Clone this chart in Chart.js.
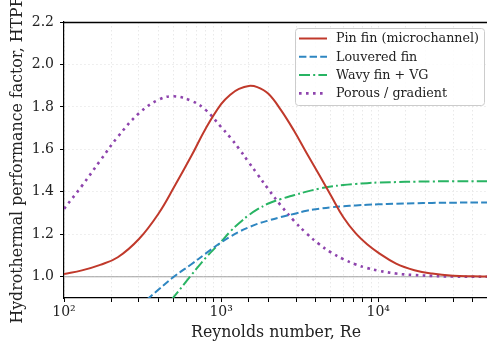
<!DOCTYPE html>
<html>
<head>
<meta charset="utf-8">
<script src="https://cdn.jsdelivr.net/npm/chart.js@4/dist/chart.umd.min.js"></script>
<style>
  html, body { margin: 0; padding: 0; background: #fff; overflow: hidden; }
  #wrap { width: 490px; height: 344px; }
</style>
</head>
<body>
<div id="wrap"><canvas id="chartCanvas"></canvas></div>
<script>
// Reynolds number sample points (x)
const reynolds = [100, 130, 170, 220, 300, 400, 500, 650, 800, 1000, 1150, 1300, 1500, 1700, 2000,
    2400, 2900, 3500, 4200, 5000, 6000, 7200, 8500, 10000, 13000, 17000, 22000, 30000, 40000, 50000];

// HTPF values
const pinFin = [1.013, 1.030, 1.056, 1.092, 1.178, 1.298, 1.420, 1.572, 1.700, 1.813, 1.859, 1.885, 1.899, 1.893, 1.862,
    1.786, 1.690, 1.583, 1.482, 1.383, 1.280, 1.204, 1.153, 1.114, 1.062, 1.031, 1.015, 1.005, 1.002, 1.001];
const louvered = [null, null, null, null, 0.860, 0.940, 1.000, 1.060, 1.110, 1.162, 1.190, 1.212, 1.233, 1.249, 1.265,
    1.281, 1.296, 1.311, 1.320, 1.327, 1.332, 1.336, 1.339, 1.341, 1.344, 1.346, 1.348, 1.349, 1.350, 1.350];
const wavyVG = [null, null, null, null, null, 0.820, 0.905, 1.010, 1.090, 1.165, 1.215, 1.252, 1.290, 1.317, 1.345,
    1.366, 1.384, 1.401, 1.415, 1.425, 1.432, 1.437, 1.441, 1.444, 1.446, 1.448, 1.449, 1.450, 1.450, 1.450];
const porous = [1.320, 1.428, 1.547, 1.659, 1.770, 1.834, 1.850, 1.828, 1.785, 1.705, 1.654, 1.603, 1.539, 1.484, 1.412,
    1.336, 1.265, 1.204, 1.154, 1.115, 1.083, 1.058, 1.041, 1.029, 1.015, 1.008, 1.004, 1.001, 1.000, 1.000];
const baseline = [1.0, 1.0];
const baselineRe = [100, 50000];

const yTicks = [1.0, 1.2, 1.4, 1.6, 1.8, 2.0, 2.2];
const decadeLabels = { 100: "10²", 1000: "10³", 10000: "10⁴" };

const serif = "'DejaVu Serif', 'Liberation Serif', serif";

const pts = (xs, ys) => xs.map((x, i) => ({ x: x, y: ys[i] })).filter(p => p.y !== null);

// legend drawn inside the plot, top right
const innerLegend = {
    id: "innerLegend",
    afterDraw(chart) {
        const ctx = chart.ctx;
        const items = chart.data.datasets.filter(d => d.inLegend);
        const bx = 295.5, by = 28.5, bw = 189, bh = 77;
        ctx.save();
        ctx.beginPath();
        ctx.roundRect(bx, by, bw, bh, 3);
        ctx.fillStyle = "rgba(255,255,255,0.85)";
        ctx.fill();
        ctx.lineWidth = 1;
        ctx.strokeStyle = "#cccccc";
        ctx.stroke();
        items.forEach((d, i) => {
            const y = 38.5 + i * 18.3;
            ctx.beginPath();
            ctx.setLineDash(d.borderDash || []);
            ctx.lineWidth = d.borderWidth;
            ctx.strokeStyle = d.borderColor;
            ctx.moveTo(299, y);
            ctx.lineTo(327, y);
            ctx.stroke();
            ctx.setLineDash([]);
            ctx.fillStyle = "#222";
            ctx.font = "12.7px " + serif;
            ctx.textBaseline = "middle";
            ctx.textAlign = "left";
            ctx.fillText(d.label, 336, y + 0.5);
        });
        ctx.restore();
    }
};

// top and right spines
const frame = {
    id: "frame",
    afterDatasetsDraw(chart) {
        const a = chart.chartArea;
        const ctx = chart.ctx;
        const top = Math.round(a.top) + 0.5;
        ctx.save();
        ctx.strokeStyle = "#000";
        ctx.lineWidth = 1.3;
        ctx.beginPath();
        ctx.moveTo(a.left, top);
        ctx.lineTo(a.right, top);
        ctx.lineTo(a.right, a.bottom);
        ctx.stroke();
        ctx.restore();
    }
};

const ctx = document.getElementById("chartCanvas").getContext("2d");
new Chart(ctx, {
    type: "line",
    data: {
        datasets: [
            {
                label: "Pin fin (microchannel)",
                data: pts(reynolds, pinFin),
                borderColor: "#c0392b",
                borderWidth: 2,
                inLegend: true,
                order: 1
            },
            {
                label: "Louvered fin",
                data: pts(reynolds, louvered),
                borderColor: "#2e86c1",
                borderWidth: 2,
                borderDash: [7.4, 3.2],
                inLegend: true,
                order: 2
            },
            {
                label: "Wavy fin + VG",
                data: pts(reynolds, wavyVG),
                borderColor: "#28b463",
                borderWidth: 2,
                borderDash: [11, 3.2, 2, 3.2],
                inLegend: true,
                order: 3
            },
            {
                label: "Porous / gradient",
                data: pts(reynolds, porous),
                borderColor: "#8e44ad",
                borderWidth: 2.6,
                borderDash: [2.6, 4.4],
                inLegend: true,
                order: 4
            },
            {
                label: "HTPF = 1",
                data: pts(baselineRe, baseline),
                borderColor: "#a0a0a0",
                borderWidth: 1,
                inLegend: false,
                order: 10
            }
        ]
    },
    options: {
        responsive: true,
        maintainAspectRatio: false,
        animation: false,
        layout: { padding: { top: 22, right: 1, left: 0, bottom: 0 } },
        elements: {
            point: { radius: 0 },
            line: { tension: 0.4, fill: false }
        },
        plugins: {
            legend: { display: false },
            tooltip: { enabled: false }
        },
        scales: {
            x: {
                type: "logarithmic",
                min: 100,
                max: 50000,
                afterFit: s => { s.height = 46; },
                title: {
                    display: true,
                    text: "Reynolds number, Re",
                    color: "#222",
                    font: { family: serif, size: 15.8 },
                    padding: { top: 0, bottom: 2 }
                },
                ticks: {
                    color: "#222",
                    font: { family: serif, size: 14 },
                    padding: 2,
                    maxRotation: 0,
                    autoSkip: false,
                    callback: v => decadeLabels[v] || ""
                },
                grid: {
                    color: "#e3e3e3",
                    lineWidth: 0.8,
                    tickLength: 4,
                    tickColor: "#000",
                    tickWidth: 1
                },
                border: { color: "#000", width: 1.2, dash: [1.5, 2.5] }
            },
            y: {
                min: 0.9,
                max: 2.2,
                afterFit: s => { s.width = 64; },
                afterBuildTicks: s => { s.ticks = yTicks.map(v => ({ value: v })); },
                title: {
                    display: true,
                    text: "Hydrothermal performance factor, HTPF",
                    color: "#222",
                    font: { family: serif, size: 15.8 },
                    padding: { top: 8, bottom: 0 }
                },
                ticks: {
                    color: "#222",
                    font: { family: serif, size: 14 },
                    padding: 6,
                    callback: v => v.toFixed(1)
                },
                grid: {
                    color: "#e3e3e3",
                    lineWidth: 0.8,
                    tickLength: 4,
                    tickColor: "#000",
                    tickWidth: 1
                },
                border: { color: "#000", width: 1.2, dash: [1.5, 2.5] }
            }
        }
    },
    plugins: [innerLegend, frame]
});
</script>
</body>
</html>
